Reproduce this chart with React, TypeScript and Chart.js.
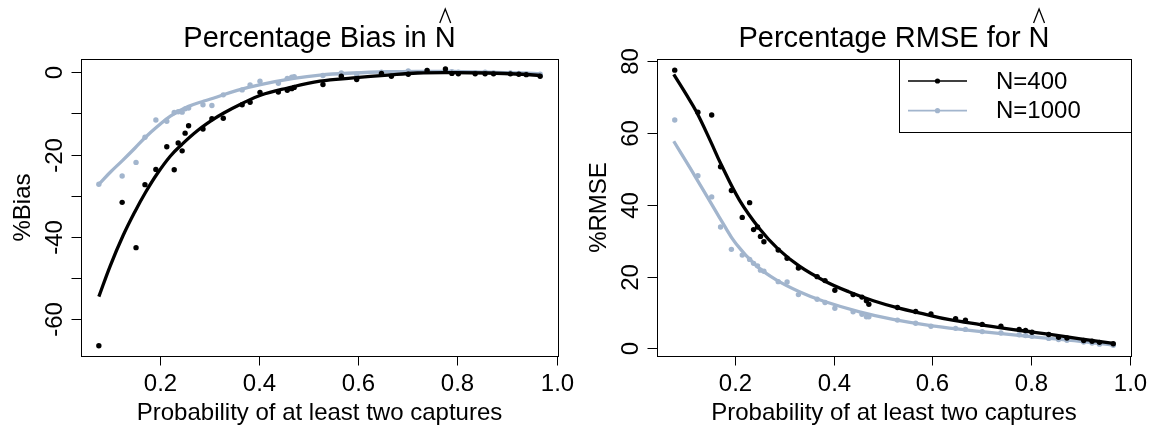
import React, { useEffect, useRef } from 'react';
import { Chart, registerables } from 'chart.js';

Chart.register(...registerables);

const FONT = '"Liberation Sans", Arial, Helvetica, sans-serif';
const BLACK = '#000000';
const GRAY = '#A2B5CD';

// ---- data ----
const probX = [
  0.077, 0.124, 0.152, 0.170, 0.192, 0.214, 0.229, 0.237, 0.245, 0.251,
  0.258, 0.287, 0.305, 0.328, 0.366, 0.382, 0.402, 0.439, 0.457, 0.466,
  0.471, 0.529, 0.566, 0.597, 0.647, 0.667, 0.701, 0.739, 0.776, 0.789,
  0.802, 0.836, 0.856, 0.873, 0.907, 0.924, 0.939, 0.967,
];

const biasN400 = [
  -66.4, -31.6, -42.6, -27.3, -23.6, -18.1, -23.7, -17.2, -19.1, -14.8,
  -13.0, -13.8, -11.3, -11.2, -7.9, -7.3, -4.9, -4.8, -4.4, -4.0,
  -3.7, -3.0, -1.0, -1.8, -0.3, -1.0, -0.5, 0.4, 0.8, -0.3,
  -0.4, -0.4, -0.4, -0.4, -0.4, -0.5, -0.6, -1.0,
];

const biasN1000 = [
  -27.2, -25.2, -21.9, -15.8, -11.6, -11.9, -9.8, -9.6, -9.7, -8.9,
  -8.7, -7.9, -8.1, -5.5, -4.3, -3.1, -2.2, -2.7, -1.5, -1.2,
  -1.1, -0.8, -0.2, -0.5, 0.0, -0.3, 0.3, 0.4, 0.3, 0.1,
  0.0, -0.1, 0.0, -0.2, -0.2, -0.3, -0.4, -0.5,
];

const rmseN400 = [
  77.5, 65.8, 65.0, 50.6, 44.0, 36.5, 40.6, 33.1, 33.8, 31.2,
  29.7, 27.4, 25.1, 22.4, 20.0, 18.9, 16.2, 15.0, 14.3, 13.3,
  12.3, 11.4, 10.3, 9.6, 8.3, 7.9, 6.7, 6.2, 5.3, 5.0,
  4.5, 3.9, 3.1, 2.9, 2.2, 2.0, 1.7, 1.3,
];

const rmseN1000 = [
  63.6, 48.1, 42.2, 33.8, 27.6, 26.0, 24.8, 23.7, 23.0, 21.8,
  21.5, 18.6, 18.5, 15.0, 13.7, 12.8, 11.2, 10.2, 9.5, 8.8,
  8.8, 7.9, 7.0, 6.2, 5.6, 5.3, 4.7, 4.3, 3.8, 3.6,
  3.4, 2.8, 2.5, 2.3, 1.8, 1.5, 1.2, 0.9,
];

// smoothed curves
const biasFitX400 = [0.077, 0.10, 0.125, 0.15, 0.171, 0.195, 0.221, 0.244, 0.275, 0.306, 0.329, 0.366, 0.403, 0.456, 0.523, 0.59, 0.66, 0.72, 0.79, 0.86, 0.93, 0.967];
const biasFitY400 = [-54.5, -47.0, -39.9, -33.8, -29.2, -24.6, -20.4, -17.6, -14.3, -11.6, -9.9, -7.6, -5.6, -3.9, -2.2, -1.4, -0.7, -0.2, -0.1, -0.2, -0.5, -0.8];
const biasFitX1000 = [0.077, 0.10, 0.125, 0.15, 0.171, 0.195, 0.222, 0.258, 0.289, 0.306, 0.356, 0.403, 0.47, 0.523, 0.59, 0.66, 0.72, 0.79, 0.86, 0.93, 0.967];
const biasFitY1000 = [-27.2, -24.3, -21.4, -18.4, -15.8, -13.2, -10.6, -8.3, -7.0, -6.4, -4.4, -3.0, -1.5, -0.7, -0.2, 0.1, 0.2, 0.2, 0.0, -0.2, -0.4];

const rmseFitX400 = [0.075, 0.10, 0.121, 0.15, 0.171, 0.208, 0.25, 0.286, 0.330, 0.381, 0.43, 0.48, 0.53, 0.58, 0.635, 0.70, 0.75, 0.807, 0.87, 0.93, 0.967];
const rmseFitY400 = [76.3, 70.8, 65.9, 57.6, 51.3, 41.4, 33.2, 27.8, 22.9, 18.8, 15.8, 13.3, 11.3, 9.7, 8.0, 6.6, 5.5, 4.5, 3.3, 2.1, 1.4];
const rmseFitX1000 = [0.075, 0.10, 0.121, 0.147, 0.175, 0.201, 0.242, 0.283, 0.330, 0.378, 0.452, 0.52, 0.60, 0.70, 0.80, 0.90, 0.967];
const rmseFitY1000 = [57.7, 52.1, 47.3, 41.3, 34.8, 29.2, 23.1, 19.1, 15.8, 13.2, 10.2, 8.1, 6.3, 4.7, 3.3, 2.0, 0.9];

// ticks
const xTicks = [0.2, 0.4, 0.6, 0.8, 1.0];
const xTickLabels = ['0.2', '0.4', '0.6', '0.8', '1.0'];
const biasTicks = [0, -10, -20, -30, -40, -50, -60];
const biasTickLabels = ['0', '', '-20', '', '-40', '', '-60'];
const rmseTicks = [0, 20, 40, 60, 80];
const rmseTickLabels = ['0', '20', '40', '60', '80'];

const seriesNames = ['N=400', 'N=1000'];

const pts = (xs: number[], ys: number[]) => xs.map((x, i) => ({ x, y: ys[i] }));

const rPlotPlugin = {
  id: 'rPlot',
  afterDraw(chart: any, _args: any, opts: any) {
    const { ctx, chartArea: a } = chart;
    const xs = chart.scales.x;
    const ys = chart.scales.y;
    ctx.save();
    ctx.fillStyle = '#000';
    ctx.strokeStyle = '#000';
    ctx.lineWidth = 1;
    const L = Math.round(a.left) + 0.5;
    const R = Math.round(a.right) + 0.5;
    const T = Math.round(a.top) + 0.5;
    const B = Math.round(a.bottom) + 0.5;
    ctx.strokeRect(L, T, R - L, B - T);

    // x axis
    ctx.font = `24px ${FONT}`;
    ctx.textAlign = 'center';
    ctx.textBaseline = 'alphabetic';
    const xt: number[] = opts.xTicks;
    const xl: string[] = opts.xTickLabels;
    ctx.beginPath();
    ctx.moveTo(Math.round(xs.getPixelForValue(xt[0])) + 0.5, B);
    ctx.lineTo(Math.round(xs.getPixelForValue(xt[xt.length - 1])) + 0.5, B);
    ctx.stroke();
    xt.forEach((v, i) => {
      const px = Math.round(xs.getPixelForValue(v)) + 0.5;
      ctx.beginPath();
      ctx.moveTo(px, B);
      ctx.lineTo(px, B + 9);
      ctx.stroke();
      ctx.fillText(xl[i], px, B + 34);
    });
    ctx.fillText(opts.xTitle, (a.left + a.right) / 2, B + 63);

    // y axis
    const yt: number[] = opts.yTicks;
    const yl: string[] = opts.yTickLabels;
    ctx.beginPath();
    ctx.moveTo(L, Math.round(ys.getPixelForValue(yt[0])) + 0.5);
    ctx.lineTo(L, Math.round(ys.getPixelForValue(yt[yt.length - 1])) + 0.5);
    ctx.stroke();
    yt.forEach((v, i) => {
      const py = Math.round(ys.getPixelForValue(v)) + 0.5;
      ctx.beginPath();
      ctx.moveTo(L - 10, py);
      ctx.lineTo(L, py);
      ctx.stroke();
      if (yl[i]) {
        ctx.save();
        ctx.translate(L - 20, py);
        ctx.rotate(-Math.PI / 2);
        ctx.fillText(yl[i], 0, 0);
        ctx.restore();
      }
    });
    ctx.save();
    ctx.translate(L - 52, (a.top + a.bottom) / 2);
    ctx.rotate(-Math.PI / 2);
    ctx.fillText(opts.yTitle, 0, 0);
    ctx.restore();

    // title with hat over N
    ctx.font = `29px ${FONT}`;
    ctx.textAlign = 'left';
    const pre = opts.title;
    const wPre = ctx.measureText(pre).width;
    const wN = ctx.measureText('N').width;
    const start = (a.left + a.right) / 2 - (wPre + wN) / 2;
    ctx.fillText(pre, start, 47);
    ctx.fillText('N', start + wPre, 47);
    const nL = start + wPre;
    const nR = nL + wN;
    ctx.lineWidth = 1.3;
    ctx.beginPath();
    ctx.moveTo(nL + 5, 23);
    ctx.lineTo((nL + nR) / 2, 9);
    ctx.lineTo(nR - 5, 23);
    ctx.stroke();

    // legend
    if (opts.legend) {
      ctx.lineWidth = 1;
      const lx = Math.round(a.right - 232) + 0.5;
      const lb = Math.round(a.top + 73) + 0.5;
      ctx.fillStyle = '#fff';
      ctx.fillRect(lx, T, R - lx, lb - T);
      ctx.strokeStyle = '#000';
      ctx.strokeRect(lx, T, R - lx, lb - T);
      ctx.font = `24px ${FONT}`;
      ctx.textBaseline = 'middle';
      const cols = [BLACK, GRAY];
      seriesNames.forEach((name, i) => {
        const yy = a.top + 22 + i * 29.7;
        ctx.strokeStyle = cols[i];
        ctx.fillStyle = cols[i];
        ctx.lineWidth = 1.7;
        ctx.beginPath();
        ctx.moveTo(a.right - 223, yy);
        ctx.lineTo(a.right - 164, yy);
        ctx.stroke();
        ctx.beginPath();
        ctx.arc(a.right - 193.5, yy, 2.6, 0, Math.PI * 2);
        ctx.fill();
        ctx.fillStyle = '#000';
        ctx.fillText(name, a.right - 135, yy + 1);
      });
    }
    ctx.restore();
  },
};

type PanelProps = {
  left: number;
  width: number;
  pad: { left: number; right: number; top: number; bottom: number };
  xRange: [number, number];
  yRange: [number, number];
  y400: number[];
  y1000: number[];
  fit400: { x: number; y: number }[];
  fit1000: { x: number; y: number }[];
  title: string;
  yTitle: string;
  yTicks: number[];
  yTickLabels: string[];
  legend: boolean;
};

function Panel(p: PanelProps) {
  const ref = useRef<HTMLCanvasElement>(null);
  useEffect(() => {
    const chart = new Chart(ref.current as HTMLCanvasElement, {
      type: 'scatter',
      data: {
        datasets: [
          {
            type: 'scatter',
            label: seriesNames[0],
            data: pts(probX, p.y400),
            pointRadius: 2.7,
            pointBackgroundColor: BLACK,
            pointBorderWidth: 0,
            showLine: false,
            order: 0,
          } as any,
          {
            type: 'line',
            label: seriesNames[0] + ' fit',
            data: p.fit400,
            borderColor: BLACK,
            borderWidth: 3.3,
            pointRadius: 0,
            tension: 0.4,
            fill: false,
            order: 1,
          } as any,
          {
            type: 'scatter',
            label: seriesNames[1],
            data: pts(probX, p.y1000),
            pointRadius: 2.7,
            pointBackgroundColor: GRAY,
            pointBorderWidth: 0,
            showLine: false,
            order: 2,
          } as any,
          {
            type: 'line',
            label: seriesNames[1] + ' fit',
            data: p.fit1000,
            borderColor: GRAY,
            borderWidth: 3.3,
            pointRadius: 0,
            tension: 0.4,
            fill: false,
            order: 3,
          } as any,
        ],
      },
      options: {
        responsive: false,
        animation: false,
        devicePixelRatio: 1,
        events: [],
        layout: { padding: p.pad },
        scales: {
          x: { type: 'linear', display: false, min: p.xRange[0], max: p.xRange[1] },
          y: { type: 'linear', display: false, min: p.yRange[0], max: p.yRange[1] },
        },
        plugins: {
          legend: { display: false },
          tooltip: { enabled: false },
          rPlot: {
            xTicks,
            xTickLabels,
            xTitle: 'Probability of at least two captures',
            yTicks: p.yTicks,
            yTickLabels: p.yTickLabels,
            yTitle: p.yTitle,
            title: p.title,
            legend: p.legend,
          },
        } as any,
      },
      plugins: [rPlotPlugin],
    });
    return () => chart.destroy();
  }, []);
  return (
    <canvas
      ref={ref}
      width={p.width}
      height={428}
      style={{ position: 'absolute', left: p.left, top: 0, width: p.width, height: 428 }}
    />
  );
}

export default function App() {
  return (
    <div style={{ position: 'fixed', left: 0, top: 0, width: 1157, height: 428, background: '#fff' }}>
      <Panel
        left={0}
        width={578}
        pad={{ left: 81, right: 20, top: 59, bottom: 72 }}
        xRange={[0.041, 1.003]}
        yRange={[-68.9, 3.2]}
        y400={biasN400}
        y1000={biasN1000}
        fit400={pts(biasFitX400, biasFitY400)}
        fit1000={pts(biasFitX1000, biasFitY1000)}
        title="Percentage Bias in "
        yTitle="%Bias"
        yTicks={biasTicks}
        yTickLabels={biasTickLabels}
        legend={false}
      />
      <Panel
        left={578}
        width={579}
        pad={{ left: 79, right: 26, top: 59, bottom: 72 }}
        xRange={[0.041, 1.003]}
        yRange={[-2.1, 80.6]}
        y400={rmseN400}
        y1000={rmseN1000}
        fit400={pts(rmseFitX400, rmseFitY400)}
        fit1000={pts(rmseFitX1000, rmseFitY1000)}
        title="Percentage RMSE for "
        yTitle="%RMSE"
        yTicks={rmseTicks}
        yTickLabels={rmseTickLabels}
        legend={true}
      />
    </div>
  );
}
